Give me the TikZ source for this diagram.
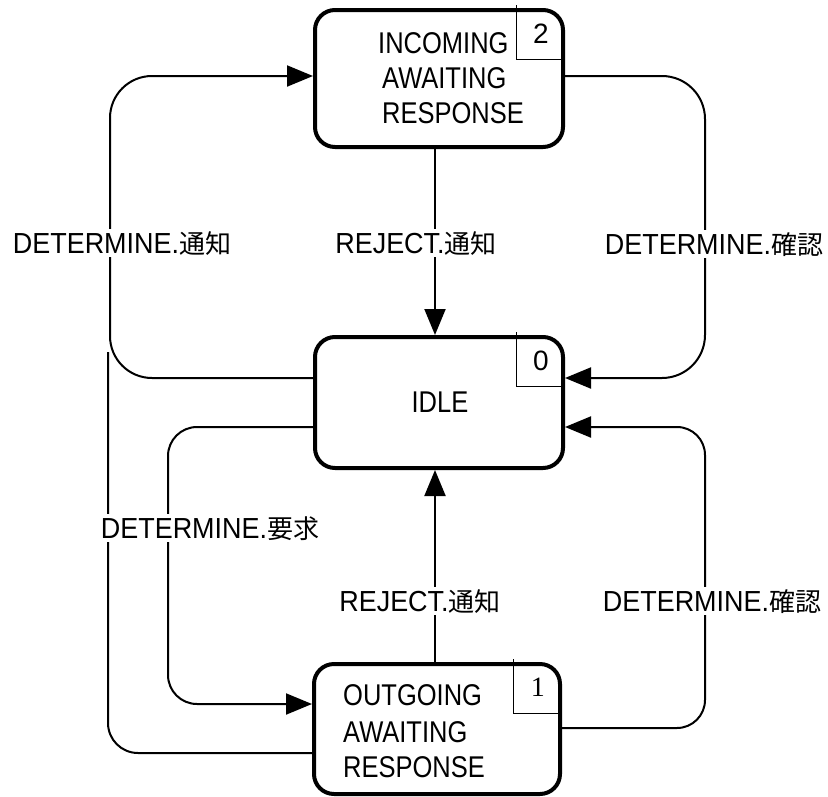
\documentclass[tikz,border=0pt]{standalone}
\usepackage{fontspec}
\setmainfont{Liberation Sans}
\newfontfamily\boxfont{Liberation Sans}[FakeStretch=0.85]
\newfontfamily\lblfont{Liberation Sans}[FakeStretch=0.93]
\newfontfamily\cjkfont{Noto Sans CJK JP}
\newfontfamily\numserif{Liberation Serif}
\usetikzlibrary{arrows.meta}

% Japanese part of a transition label
\newcommand{\jp}[1]{{\cjkfont\fontsize{26}{32}\selectfont #1}}

\begin{document}
\begin{tikzpicture}[x=1pt,y=-1pt,
  state/.style={draw, line width=4pt, rounded corners=20pt,
    minimum width=248pt, inner sep=0pt},
  boxtext/.style={inner sep=0pt, anchor=base west,
    font=\boxfont\fontsize{30}{35}\selectfont},
  numbox/.style={minimum width=48pt, minimum height=51pt, inner sep=0pt,
    anchor=north east, font=\fontsize{28}{32}\selectfont},
  numline/.style={line width=1.5pt},
  conn/.style={line width=2pt},
  tip/.style={-{Triangle[length=26pt,width=21pt]}},
  lbl/.style={fill=white, inner sep=2pt, anchor=base,
    font=\lblfont\fontsize{29}{32}\selectfont}
]
\useasboundingbox (0,0) rectangle (828,796);

% states
\node[state, minimum height=137pt] (inc) at (439,78.5) {};
\node[state, minimum height=131pt] (idle) at (439,402.5) {};
\node[state, minimum width=246pt, minimum height=130pt] (out) at (437,729) {};

% state names
\node[boxtext] (inc1) at (378,53) {INCOMING};
\node[boxtext] (inc2) at (382,88) {AWAITING};
\node[boxtext] (inc3) at (382,123) {RESPONSE};
\node[boxtext, anchor=base] (idletext) at (440,412) {IDLE};
\node[boxtext] (out1) at (343,705) {OUTGOING};
\node[boxtext] (out2) at (343,742) {AWAITING};
\node[boxtext] (out3) at (343,777) {RESPONSE};

% state numbers in the corner boxes
\node[numbox] (n2) at (inc.north east) {2};
\node[numbox] (n0) at (idle.north east) {0};
\node[numbox, font=\numserif\fontsize{28}{32}\selectfont] (n1) at (out.north east) {1};
\foreach \n in {n2,n0,n1}
  \draw[numline] ([yshift=3pt]\n.north west) -- (\n.south west) -- (\n.south east);

% transitions
\draw[conn, tip] ([xshift=-4pt]inc.south) -- ([xshift=-4pt]idle.north);
\draw[conn, tip, rounded corners=42pt]
  (idle.west |- 0,378) -- (110,378) -- (110,76) -- (inc.west |- 0,76);
\draw[conn, tip, rounded corners=43pt]
  (inc.east |- 0,76) -- (705,76) -- (705,378) -- (idle.east |- 0,378);
\draw[conn, tip, rounded corners=29pt]
  (idle.west |- 0,427) -- (168,427) -- (168,704) -- (out.west |- 0,704);
\draw[conn, tip] ([xshift=-2pt]out.north) -- ([xshift=-4pt]idle.south);
\draw[conn, tip, rounded corners=28pt]
  (out.east |- 0,728) -- (705,728) -- (705,427) -- (idle.east |- 0,427);
\coordinate (stub) at (108,352);
\draw[conn, rounded corners=30pt]
  (out.west |- 0,753) -- (108,753) -- (stub);

% transition labels
\node[lbl] (l1) at (122,253) {DETERMINE.\jp{通知}};
\node[lbl] (l2) at (416,253) {REJECT.\jp{通知}};
\node[lbl] (l3) at (714,254) {DETERMINE.\jp{確認}};
\node[lbl] (l4) at (210,538) {DETERMINE.\jp{要求}};
\node[lbl] (l5) at (420,611) {REJECT.\jp{通知}};
\node[lbl] (l6) at (712,611) {DETERMINE.\jp{確認}};
\end{tikzpicture}
\end{document}
